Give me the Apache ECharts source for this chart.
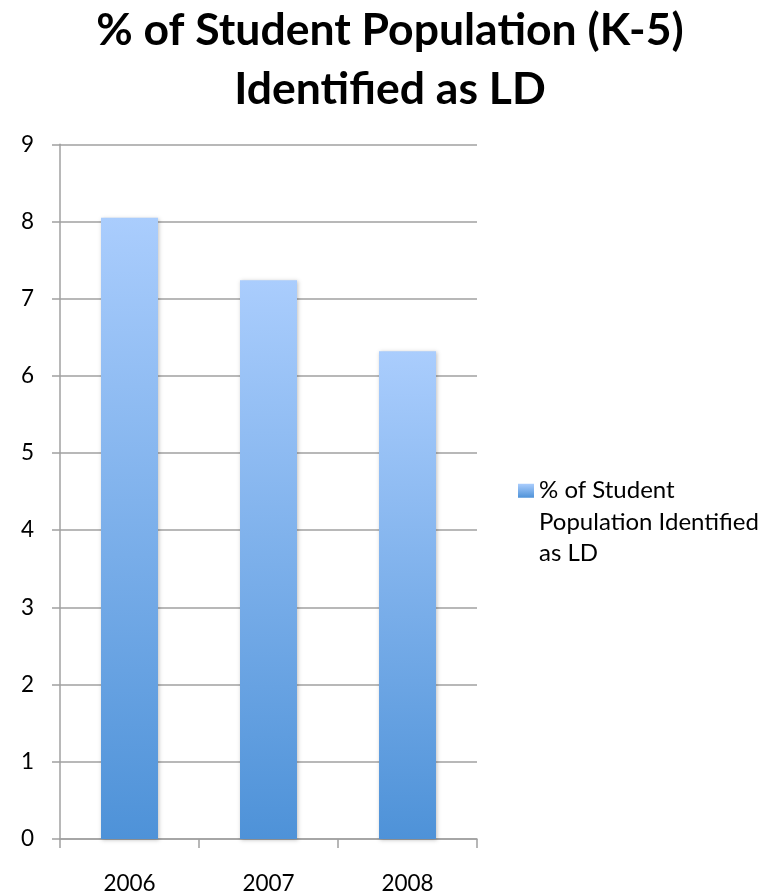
<!DOCTYPE html>
<html>
<head>
<meta charset="utf-8">
<script src="https://cdn.jsdelivr.net/npm/echarts@6/dist/echarts.min.js"></script>
<style>
html,body{margin:0;padding:0;background:#fff;}
#chart{width:780px;height:895px;}
</style>
</head>
<body>
<div id="chart"></div>
<script>
const titleText = '% of Student Population (K-5)\nIdentified as LD';
const categories = ['2006', '2007', '2008'];
const seriesName = '% of Student Population Identified as LD';
const legendLines = ['% of Student', 'Population Identified', 'as LD'];
const values = [8.05, 7.24, 6.32];
const yTicks = { min: 0, max: 9, interval: 1 };

const FONT = 'Lato';
const chart = echarts.init(document.getElementById('chart'), null, { renderer: 'canvas' });
chart.setOption({
  backgroundColor: '#ffffff',
  animation: false,
  title: {
    text: titleText,
    left: 'center',
    top: -4,
    textStyle: { fontFamily: FONT, fontWeight: 'bold', fontSize: 44.5, lineHeight: 59, color: '#000' }
  },
  legend: {
    data: [{ name: seriesName, icon: 'rect' }],
    orient: 'vertical',
    left: 518,
    top: 412,
    padding: 0,
    itemWidth: 16,
    itemHeight: 14,
    itemGap: 6,
    formatter: function () { return '\n\n' + legendLines.join('\n'); },
    textStyle: { fontFamily: FONT, fontSize: 24, lineHeight: 31.5, color: '#000' }
  },
  grid: { left: 60, right: 303, top: 144.3, bottom: 55.3, containLabel: false },
  xAxis: {
    type: 'category',
    data: categories,
    boundaryGap: true,
    axisLine: { show: true, lineStyle: { color: '#a0a0a0', width: 1.5 } },
    axisTick: { show: true, length: 9, alignWithLabel: false, lineStyle: { color: '#a0a0a0', width: 1.5 } },
    axisLabel: { fontFamily: FONT, fontSize: 22.5, color: '#000', margin: 33 },
    splitLine: { show: false }
  },
  yAxis: {
    type: 'value',
    min: yTicks.min,
    max: yTicks.max,
    interval: yTicks.interval,
    axisLine: { show: true, lineStyle: { color: '#a0a0a0', width: 1.5 } },
    axisTick: { show: true, length: 8, inside: false, lineStyle: { color: '#a0a0a0', width: 1.5 } },
    axisLabel: { fontFamily: FONT, fontSize: 22.5, color: '#000', margin: 26 },
    splitLine: { show: true, lineStyle: { color: '#a0a0a0', width: 1.5 } }
  },
  series: [{
    name: seriesName,
    type: 'bar',
    data: values,
    barWidth: '41%',
    itemStyle: {
      color: new echarts.graphic.LinearGradient(0, 0, 0, 1, [
        { offset: 0, color: '#aacdfd' },
        { offset: 1, color: '#4e92d8' }
      ]),
      shadowColor: 'rgba(0,0,0,0.25)',
      shadowBlur: 4,
      shadowOffsetX: 1,
      shadowOffsetY: 1
    }
  }]
});
</script>
</body>
</html>
